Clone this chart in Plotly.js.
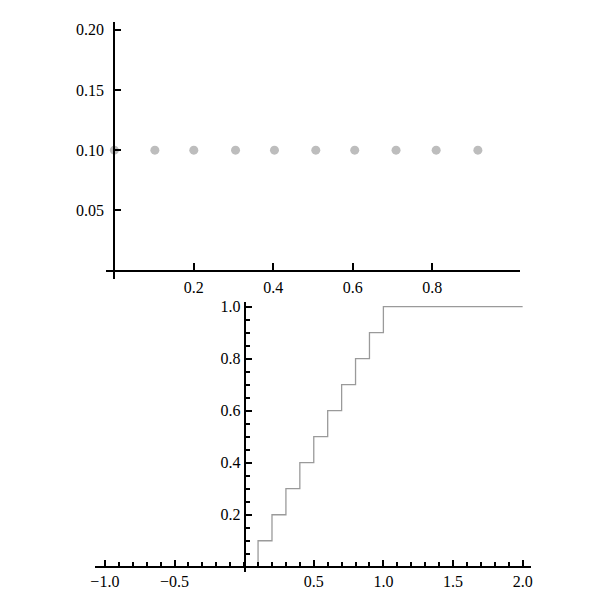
<!DOCTYPE html>
<html>
<head>
<meta charset="utf-8">
<script src="https://cdn.plot.ly/plotly-3.0.1.min.js"></script>
<style>html,body{margin:0;padding:0;background:#fff;}#chart{width:611px;height:594px;}</style>
</head>
<body>
<div id="chart"></div>
<script>
// Top panel: probability mass points
const pmfX = [0, 0.102, 0.2, 0.305, 0.403, 0.507, 0.605, 0.709, 0.81, 0.915];
const pmfY = [0.1, 0.1, 0.1, 0.1, 0.1, 0.1, 0.1, 0.1, 0.1, 0.1];
// Bottom panel: cumulative step function
const cdfX = [0.1, 0.1, 0.2, 0.3, 0.4, 0.5, 0.6, 0.7, 0.8, 0.9, 1.0, 2.0];
const cdfY = [0, 0.1, 0.2, 0.3, 0.4, 0.5, 0.6, 0.7, 0.8, 0.9, 1.0, 1.0];
// Tick labels
const topXTicks = [0.2, 0.4, 0.6, 0.8];
const topXLabels = ["0.2", "0.4", "0.6", "0.8"];
const topYTicks = [0.05, 0.10, 0.15, 0.20];
const topYLabels = ["0.05", "0.10", "0.15", "0.20"];
const botXTicks = [-1.0, -0.5, 0.5, 1.0, 1.5, 2.0];
const botXLabels = ["\u22121.0", "\u22120.5", "0.5", "1.0", "1.5", "2.0"];
const botYTicks = [0.2, 0.4, 0.6, 0.8, 1.0];
const botYLabels = ["0.2", "0.4", "0.6", "0.8", "1.0"];

const W = 611, H = 594;
const px = v => v / W;
const py = v => 1 - v / H;
const font = {family: "Liberation Serif, Times New Roman, serif", size: 16, color: "#000"};

const traces = [
  {x: pmfX, y: pmfY, type: "scatter", mode: "markers", xaxis: "x", yaxis: "y",
   marker: {color: "#bdbdbd", size: 9}, cliponaxis: false, hoverinfo: "skip"},
  {x: cdfX, y: cdfY, type: "scatter", mode: "lines", xaxis: "x2", yaxis: "y2",
   line: {color: "#9a9a9a", width: 1.3, shape: "hv"}, hoverinfo: "skip"}
];

const common = {showgrid: false, zeroline: false, showline: true, linecolor: "#000", linewidth: 2,
  ticks: "inside", tickcolor: "#000", tickwidth: 2, tickfont: font, tickmode: "array"};

const layout = {
  width: W, height: H, margin: {l: 0, r: 0, t: 0, b: 0},
  paper_bgcolor: "#fff", plot_bgcolor: "rgba(0,0,0,0)", showlegend: false,
  xaxis: Object.assign({}, common, {domain: [px(106), px(520)], range: [-0.021, 1.021],
    anchor: "free", position: py(270.7), tickvals: topXTicks, ticktext: topXLabels, ticklen: 7,
    ticklabelstandoff: 2}),
  yaxis: Object.assign({}, common, {domain: [py(279), py(21.7)], range: [-0.0069, 0.2066],
    anchor: "free", position: px(114.3), tickvals: topYTicks, ticktext: topYLabels, ticklen: 6,
    ticklabelstandoff: 6}),
  xaxis2: Object.assign({}, common, {domain: [px(95), px(531)], range: [-1.071, 2.06],
    anchor: "free", position: py(566.7), tickvals: botXTicks, ticktext: botXLabels, ticklen: 6,
    ticklabelstandoff: 0,
    minor: {tickmode: "linear", tick0: 0, dtick: 0.1, ticks: "inside", ticklen: 4, tickwidth: 2, tickcolor: "#000", showgrid: false}}),
  yaxis2: Object.assign({}, common, {domain: [py(571.7), py(301.7)], range: [-0.019, 1.019],
    anchor: "free", position: px(244.6), tickvals: botYTicks, ticktext: botYLabels, ticklen: 6,
    ticklabelstandoff: 0,
    minor: {tickmode: "linear", tick0: 0, dtick: 0.05, ticks: "inside", ticklen: 4, tickwidth: 2, tickcolor: "#000", showgrid: false}})
};

Plotly.newPlot("chart", traces, layout, {staticPlot: true, displayModeBar: false});
</script>
</body>
</html>
